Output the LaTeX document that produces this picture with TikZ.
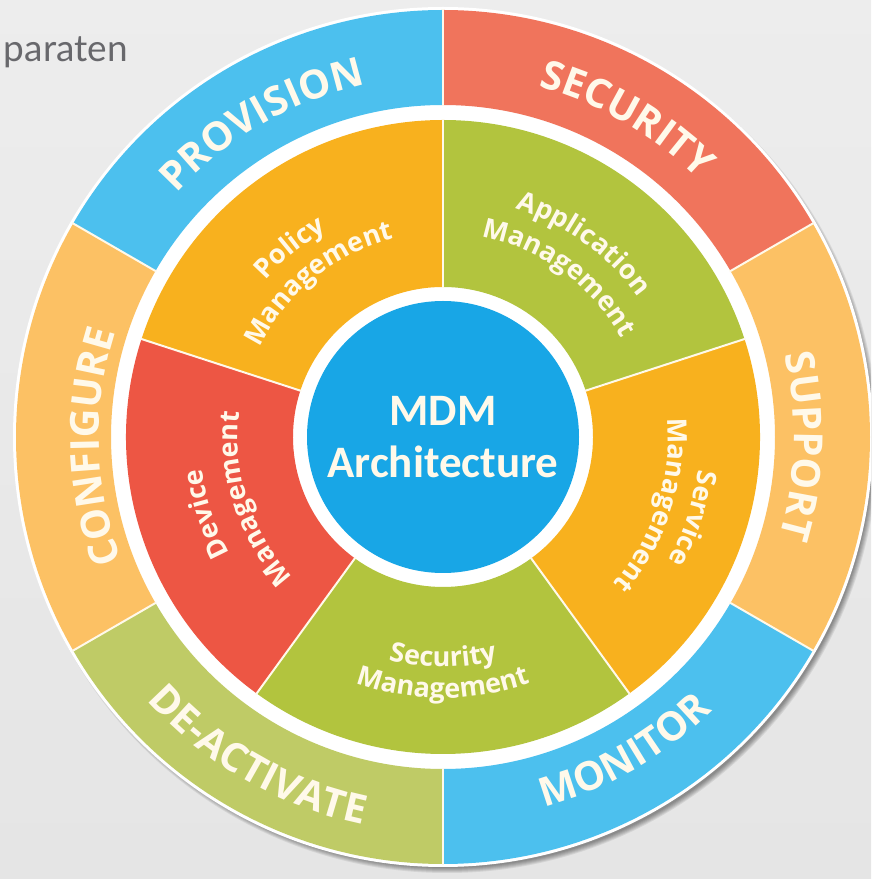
\documentclass[tikz,border=0pt]{standalone}
\usepackage{fontspec}
\setmainfont{Open Sans}
\newfontfamily\titlefont{Carlito}
\newfontfamily\cornerfont{Lato}
\usetikzlibrary{decorations.text}
\definecolor{bg}{RGB}{229,229,229}
\definecolor{obl}{RGB}{76,192,238}
\definecolor{ored}{RGB}{240,116,92}
\definecolor{oorg}{RGB}{252,193,100}
\definecolor{ogrn}{RGB}{191,203,102}
\definecolor{iorg}{RGB}{248,177,30}
\definecolor{igrn}{RGB}{178,196,62}
\definecolor{ired}{RGB}{237,86,68}
\definecolor{cbl}{RGB}{24,166,230}
\definecolor{txt}{RGB}{255,249,234}
\definecolor{gtxt}{RGB}{104,104,108}
\newcommand\ringfont{\fontsize{40}{40}\selectfont\bfseries}
\newcommand\secfont{\fontsize{27}{27}\selectfont\bfseries}
\newcommand\annseg[5]{\fill[#5] (#1:#4) arc[start angle=#1,end angle=#2,radius=#4] -- (#2:#3) arc[start angle=#2,end angle=#1,radius=#3] -- cycle;}
\newcommand\curvetext[5]{\path[decorate,decoration={text along path,text align=center,text color=txt,text={|#4|#5}}] (#2:#1) arc[start angle=#2,end angle=#3,radius=#1];}
\tikzset{
  divider/.style={draw=txt,line width=2pt},
  shadowring/.style={fill=black,opacity=0.08},
}
\begin{document}
\begin{tikzpicture}[x=1pt,y=1pt]
\useasboundingbox (0,0) rectangle (871,879);
\clip (0,0) rectangle (871,879);
\shade[top color=bg!70!white,bottom color=bg] (0,0) rectangle (871,879);
\node[anchor=base east,inner sep=0,text=gtxt,font=\cornerfont\fontsize{37}{37}\selectfont] (corner) at (128,817) {paraten};
\begin{scope}[shift={(443,442)}]
  % shadow
  \foreach \i in {0,...,5} {\fill[shadowring] (4pt,-5pt) circle[radius=426pt+\i pt];}
  \fill[white] (0,0) circle[radius=430pt];
  % outer ring
  \annseg{90}{150}{332pt}{427pt}{obl}
  \annseg{30}{90}{332pt}{427pt}{ored}
  \annseg{-30}{30}{332pt}{427pt}{oorg}
  \annseg{-90}{-30}{332pt}{427pt}{obl}
  \annseg{-150}{-90}{332pt}{427pt}{ogrn}
  \annseg{150}{210}{332pt}{427pt}{oorg}
  \foreach \a in {90,30,-30,-90,-150,150} {\path[divider] (\a:331pt) -- (\a:428pt);}
  % inner sectors
  \annseg{90}{162}{150pt}{317pt}{iorg}
  \annseg{18}{90}{150pt}{317pt}{igrn}
  \annseg{-54}{18}{150pt}{317pt}{iorg}
  \annseg{-126}{-54}{150pt}{317pt}{igrn}
  \annseg{162}{234}{150pt}{317pt}{ired}
  \foreach \a in {90,18,-54,-126,162} {\path[divider] (\a:149pt) -- (\a:318pt);}
  % centre
  \node[circle,fill=cbl,minimum size=272pt,inner sep=0] (core) at (0,0) {};
  \node[align=center,text=txt,font=\titlefont\bfseries\fontsize{45}{52}\selectfont] (title) at (core.center) {MDM\\Architecture};
  % outer labels
  \curvetext{361pt}{170}{70}{\ringfont}{PROVISION}
  \curvetext{363pt}{110}{10}{\ringfont}{SECURITY}
  \curvetext{351pt}{48.5}{-51.5}{\ringfont}{SUPPORT}
  \curvetext{384pt}{-110}{-10}{\ringfont}{MONITOR}
  \curvetext{396pt}{-170}{-70}{\ringfont}{DE-ACTIVATE}
  \curvetext{344pt}{231.6}{131.6}{\ringfont}{CONFIGURE}
  % inner labels
  \curvetext{237pt}{179}{79}{\secfont}{Policy}
  \curvetext{204pt}{179}{79}{\secfont}{Management}
  \curvetext{240pt}{104}{4}{\secfont}{Application}
  \curvetext{204pt}{104}{4}{\secfont}{Management}
  \curvetext{257pt}{32}{-68}{\secfont}{Service}
  \curvetext{225pt}{32}{-68}{\secfont}{Management}
  \curvetext{230pt}{-140}{-40}{\secfont}{Security}
  \curvetext{261pt}{-140}{-40}{\secfont}{Management}
  \curvetext{243pt}{248}{148}{\secfont}{Device}
  \curvetext{205pt}{248}{148}{\secfont}{Management}
\end{scope}
\end{tikzpicture}
\end{document}
